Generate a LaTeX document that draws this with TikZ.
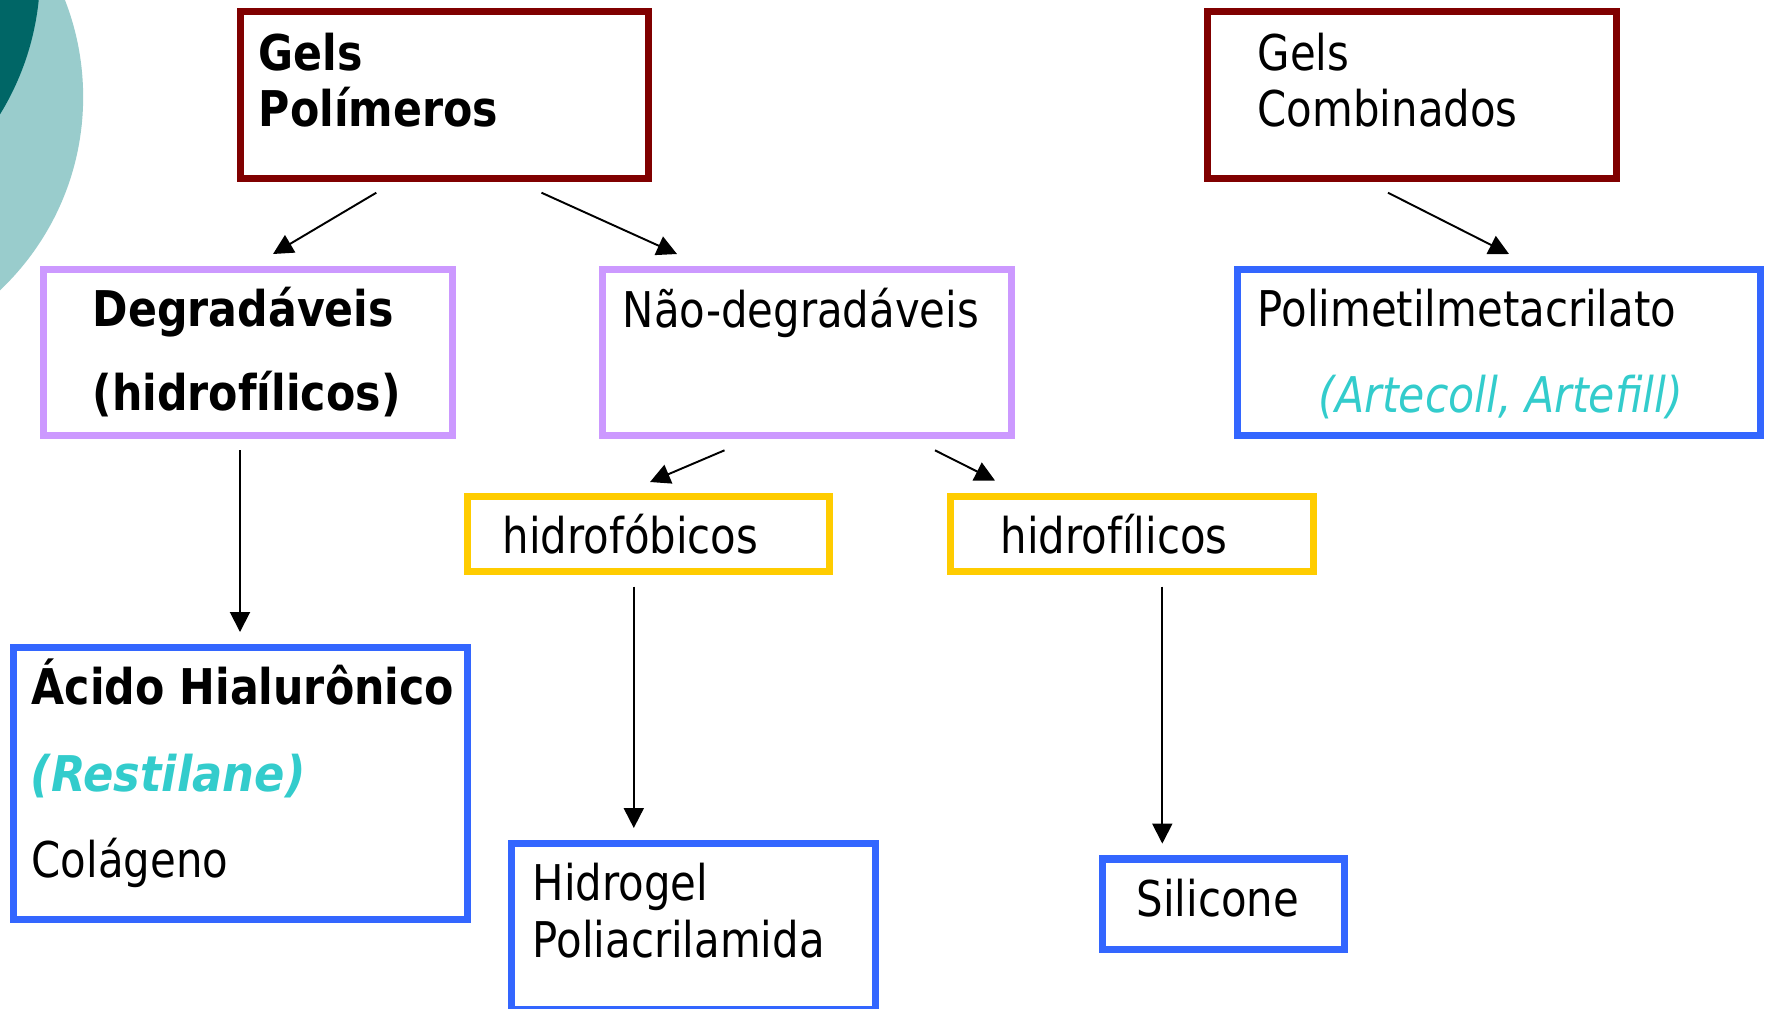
\documentclass[tikz,border=0pt]{standalone}
\usepackage{fontspec}
\setmainfont{DejaVu Sans}[UprightFeatures={FakeStretch=0.85},BoldFeatures={FakeStretch=0.868},ItalicFeatures={FakeStretch=0.867},BoldItalicFeatures={FakeStretch=0.91}]
\usetikzlibrary{arrows.meta}
\definecolor{dred}{HTML}{800000}
\definecolor{lav}{HTML}{CC99FF}
\definecolor{bl}{HTML}{3366FF}
\definecolor{yl}{HTML}{FFCC00}
\definecolor{cy}{HTML}{33CCCC}
\definecolor{tlight}{HTML}{99CCCC}
\definecolor{tdark}{HTML}{006666}
\begin{document}
\begin{tikzpicture}[x=0.01cm,y=-0.01cm,
  box/.style={draw=#1,line width=2pt,inner sep=0pt,outer sep=0pt},
  txt/.style={anchor=base west,inner sep=0pt,font=\fontsize{14}{17}\selectfont},
  txtb/.style={anchor=base west,inner sep=0pt,font=\fontsize{14}{17}\selectfont\bfseries},
  txti/.style={anchor=base west,inner sep=0pt,text=cy,font=\fontsize{14}{17}\selectfont\itshape},
  txtbi/.style={anchor=base west,inner sep=0pt,text=cy,font=\fontsize{14}{17}\selectfont\bfseries\itshape},
  arr/.style={line width=0.55pt,-{Triangle[length=0.2cm,width=0.2cm]}}]
\clip (0,0) rectangle (1766,1008);
\fill[white] (0,0) rectangle (1766,1008);
% decoration
\fill[tlight] (-183,97) circle[radius=2.66cm];
\fill[tdark] (-232,-28) circle[radius=2.72cm];
% boxes
\node[box=dred,minimum width=4.079cm,minimum height=1.663cm] (gp) at (444.25,95.15) {};
\node[box=dred,minimum width=4.08cm,minimum height=1.663cm] (gc) at (1412,95.15) {};
\node[box=lav,minimum width=4.08cm,minimum height=1.66cm] (deg) at (248,352.5) {};
\node[box=lav,minimum width=4.085cm,minimum height=1.662cm] (nd) at (807.25,352.4) {};
\node[box=bl,minimum width=5.225cm,minimum height=1.657cm] (pm) at (1499.25,352.65) {};
\node[box=yl,minimum width=3.617cm,minimum height=0.752cm] (hfob) at (648.65,533.9) {};
\node[box=yl,minimum width=3.633cm,minimum height=0.752cm] (hfil) at (1132.15,533.9) {};
\node[box=bl,minimum width=4.538cm,minimum height=2.72cm] (ah) at (240.4,783.5) {};
\node[box=bl,minimum width=3.63cm,minimum height=1.65cm] (hg) at (693.5,926.5) {};
\node[box=bl,minimum width=2.423cm,minimum height=0.903cm] (sil) at (1223.35,904.15) {};
% texts
\node[txtb] (t1) at (258,70) {Gels};
\node[txtb] (t2) at (258,126.7) {Polímeros};
\node[txt] (t3) at (1257,70) {Gels};
\node[txt] (t4) at (1257,126.7) {Combinados};
\node[txtb] (t5) at (92,326.7) {Degradáveis};
\node[txtb] (t6) at (92,410) {(hidrofílicos)};
\node[txt] (t7) at (622,327.3) {Não-degradáveis};
\node[txt] (t8) at (1257,326.7) {Polimetilmetacrilato};
\node[txti] (t9) at (1318,412) {(Artecoll, Artefill)};
\node[txt] (t10) at (502,553.5) {hidrofóbicos};
\node[txt] (t11) at (1000,553.5) {hidrofílicos};
\node[txtb] (t12) at (31,704.6) {Ácido Hialurônico};
\node[txtbi] (t13) at (30,791) {(Restilane)};
\node[txt] (t14) at (31,877.8) {Colágeno};
\node[txt] (t15) at (532,900) {Hidrogel};
\node[txt] (t16) at (532,957) {Poliacrilamida};
\node[txt] (t17) at (1136,916.5) {Silicone};
% arrow end points
\coordinate (a1s) at (376.3,192.7); \coordinate (a1e) at (273,254);
\coordinate (a2s) at (541.5,192.7); \coordinate (a2e) at (677,254);
\coordinate (a3s) at (1388,192.7); \coordinate (a3e) at (1509,254);
\coordinate (a4s) at (240,450.3); \coordinate (a4e) at (240,632);
\coordinate (a5s) at (724.5,450.3); \coordinate (a5e) at (650,482);
\coordinate (a6s) at (935,450.3); \coordinate (a6e) at (995,480.5);
\coordinate (a7s) at (633.8,586.6); \coordinate (a7e) at (633.8,828);
\coordinate (a8s) at (1162.3,586.6); \coordinate (a8e) at (1162.3,843.6);
\draw[arr] (a1s) -- (a1e);
\draw[arr] (a2s) -- (a2e);
\draw[arr] (a3s) -- (a3e);
\draw[arr] (a4s) -- (a4e);
\draw[arr] (a5s) -- (a5e);
\draw[arr] (a6s) -- (a6e);
\draw[arr] (a7s) -- (a7e);
\draw[arr] (a8s) -- (a8e);
\end{tikzpicture}
\end{document}
